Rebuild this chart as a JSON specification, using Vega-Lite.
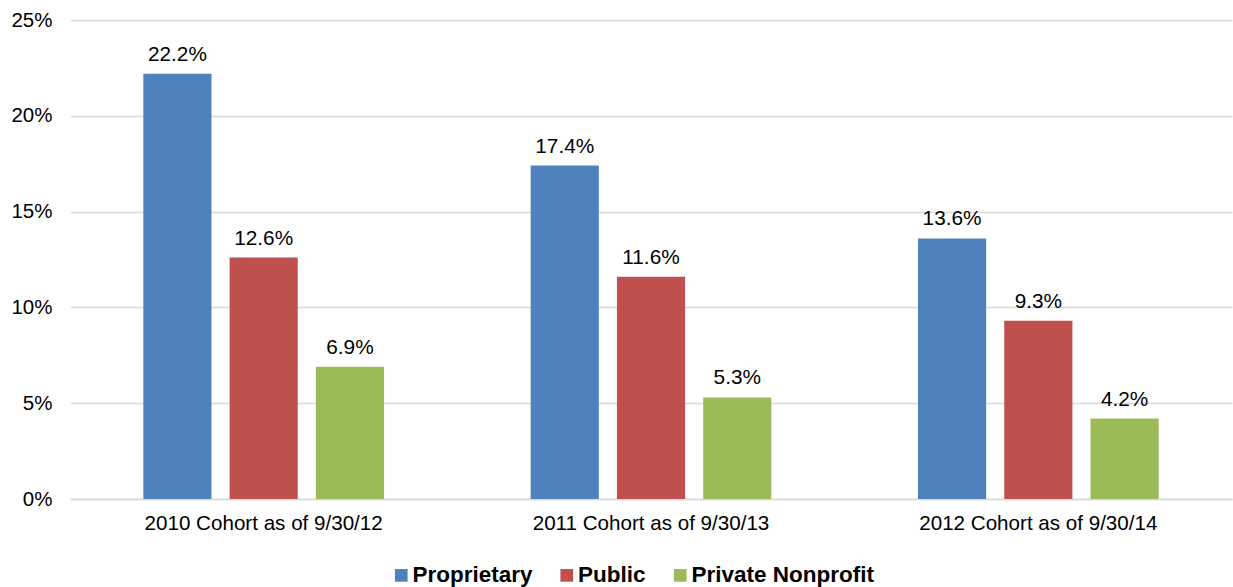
{
  "$schema": "https://vega.github.io/schema/vega-lite/v6.json",
  "width": 1162,
  "height": 479,
  "autosize": {"type": "none"},
  "padding": {"left": 70, "top": 20, "right": 1, "bottom": 88},
  "config": {
    "view": {"stroke": null},
    "font": "Liberation Sans"
  },
  "data": {
    "values": [
      {"cohort": "2010 Cohort as of 9/30/12", "sector": "Proprietary", "rate": 0.222},
      {"cohort": "2010 Cohort as of 9/30/12", "sector": "Public", "rate": 0.126},
      {"cohort": "2010 Cohort as of 9/30/12", "sector": "Private Nonprofit", "rate": 0.069},
      {"cohort": "2011 Cohort as of 9/30/13", "sector": "Proprietary", "rate": 0.174},
      {"cohort": "2011 Cohort as of 9/30/13", "sector": "Public", "rate": 0.116},
      {"cohort": "2011 Cohort as of 9/30/13", "sector": "Private Nonprofit", "rate": 0.053},
      {"cohort": "2012 Cohort as of 9/30/14", "sector": "Proprietary", "rate": 0.136},
      {"cohort": "2012 Cohort as of 9/30/14", "sector": "Public", "rate": 0.093},
      {"cohort": "2012 Cohort as of 9/30/14", "sector": "Private Nonprofit", "rate": 0.042}
    ]
  },
  "encoding": {
    "x": {
      "field": "cohort", "type": "nominal",
      "scale": {"paddingInner": 0, "paddingOuter": 0},
      "axis": {
        "title": null, "labelAngle": 0, "ticks": false, "labelLimit": 400,
        "labelFontSize": 20.6, "labelColor": "#000000", "labelPadding": 14,
        "domainColor": "#d9d9d9", "domainWidth": 1.5
      }
    },
    "xOffset": {
      "field": "sector", "type": "nominal",
      "sort": ["Proprietary", "Public", "Private Nonprofit"],
      "scale": {"paddingInner": 0.21, "paddingOuter": 0.85}
    },
    "y": {
      "field": "rate", "type": "quantitative",
      "scale": {"domain": [0, 0.25]},
      "axis": {
        "title": null, "format": ".0%", "values": [0, 0.05, 0.1, 0.15, 0.2, 0.25],
        "domain": false, "ticks": false, "labelFontSize": 20.5, "labelColor": "#000000",
        "labelPadding": 18, "gridColor": "#d9d9d9", "gridWidth": 1.5
      }
    }
  },
  "layer": [
    {
      "mark": {"type": "bar"},
      "encoding": {
        "color": {
          "field": "sector", "type": "nominal",
          "sort": ["Proprietary", "Public", "Private Nonprofit"],
          "scale": {"domain": ["Proprietary", "Public", "Private Nonprofit"], "range": ["#4F81BD", "#C0504D", "#9BBB59"]},
          "legend": {
            "title": null, "orient": "none", "direction": "horizontal",
            "legendX": 320, "legendY": 544, "labelLimit": 400,
            "symbolType": "square", "symbolSize": 160, "symbolStrokeWidth": 0,
            "labelFontSize": 22.5, "labelFontWeight": "bold", "labelColor": "#000000",
            "labelOffset": 0, "columnPadding": 22.5
          }
        }
      }
    },
    {
      "mark": {"type": "text", "baseline": "alphabetic", "dy": -13, "fontSize": 20.8, "color": "#000000"},
      "encoding": {
        "text": {"field": "rate", "type": "quantitative", "format": ".1%"}
      }
    }
  ]
}
